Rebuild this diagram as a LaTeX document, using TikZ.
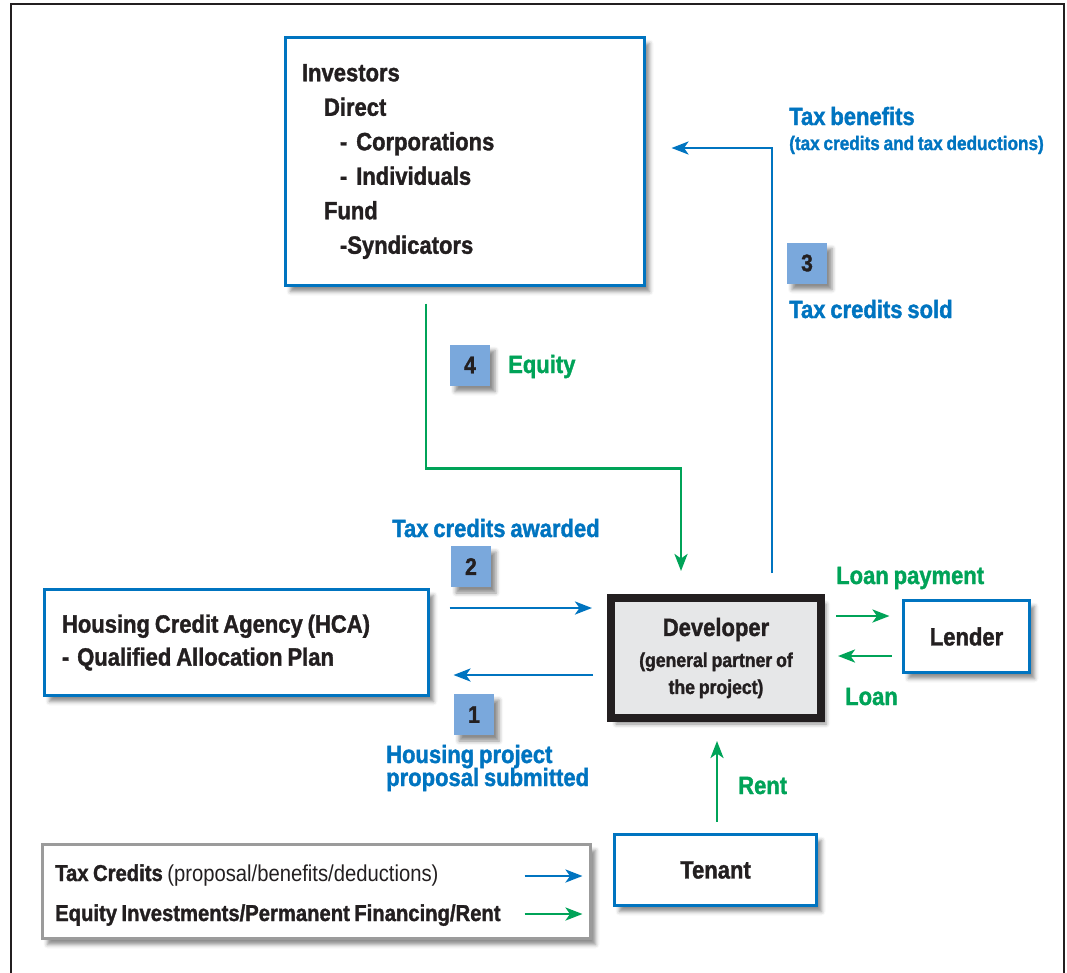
\documentclass[tikz,border=0pt]{standalone}
\usepackage{fontspec}
\setmainfont{Liberation Sans}[FakeStretch=0.88, WordSpace=0.8, BoldFeatures={FakeBold=1.4}]
\usetikzlibrary{arrows.meta, shadows.blur, positioning}
\definecolor{azul}{RGB}{0,116,192}
\definecolor{verde}{RGB}{0,163,88}
\definecolor{azulnum}{RGB}{122,168,220}
\definecolor{grisdev}{RGB}{230,231,232}
\definecolor{tinta}{RGB}{35,31,32}
\definecolor{grisley}{RGB}{155,155,155}
\tikzset{
	x=1pt, y=-1pt, % Coordenadas en pixeles, eje y hacia abajo
	every node/.style={font=\fontsize{25}{30}\selectfont\bfseries, text=tinta}, % Letra por defecto
	sombra/.style={blur shadow={shadow xshift=5pt, shadow yshift=-6pt, shadow blur radius=4pt, shadow opacity=45}}, % Sombra de las cajas
	caja/.style={draw=azul, line width=3pt, fill=white, sombra}, % Cajas azules
	num/.style={fill=azulnum, minimum width=40pt, minimum height=41pt, inner sep=0pt, sombra, font=\fontsize{24}{28}\selectfont\bfseries}, % Numeros de paso
	etq/.style={anchor=base west, inner sep=0pt}, % Etiquetas de los arcos
	flecha/.style={line width=2.8pt, -{Stealth[length=17pt, width=13pt, inset=4.5pt]}}, % Flechas
	fazul/.style={flecha, draw=azul},
	fverde/.style={flecha, draw=verde}
}

\begin{document}
\begin{tikzpicture}
				\useasboundingbox (0,0) rectangle (1067,972);
				\draw[tinta, line width=2.5pt] (11,990) -- (11,4) -- (1064,4) -- (1064,990);

				\node[caja, minimum width=359pt, minimum height=248pt, inner xsep=16.5pt, text width=326pt, align=flush left, font=\fontsize{25}{34.5}\selectfont\bfseries] (investors) at (465,161.5)
					{Investors\\\hspace*{22pt}Direct\\\hspace*{38pt}- \hspace{4pt}Corporations\\\hspace*{38pt}- \hspace{4pt}Individuals\\\hspace*{22pt}Fund\\\hspace*{38pt}-Syndicators};
				\node[caja, minimum width=384pt, minimum height=106pt, inner xsep=17.5pt, text width=349pt, align=flush left, font=\fontsize{25}{33}\selectfont\bfseries] (hca) at (236.5,642.5)
					{Housing Credit Agency (HCA)\\- \hspace{3pt}Qualified Allocation Plan};
				\node[draw=tinta, line width=8pt, fill=grisdev, sombra, minimum width=210pt, minimum height=120pt, align=center, font=\fontsize{20}{27}\selectfont\bfseries] (dev) at (716,658)
					{{\fontsize{25}{30}\selectfont Developer}\\[4pt](general partner of\\the project)};
				\node[caja, minimum width=126pt, minimum height=72pt] (lender) at (966.5,636.5) {Lender};
				\node[caja, minimum width=202pt, minimum height=71pt] (tenant) at (715.5,870) {Tenant};
				\node[draw=grisley, line width=3pt, fill=white, sombra, minimum width=548pt, minimum height=94pt] (legend) at (316.5,891.5) {};

				\node[num] (n4) at (470,365) {4};
				\node[num] (n3) at (807,263) {3};
				\node[num] (n2) at (471,566.5) {2};
				\node[num] (n1) at (474,714.5) {1};

				\node[etq, text=azul] (benef) at (789,125) {Tax benefits};
				\node[etq, text=azul, font=\fontsize{19.5}{24}\selectfont\bfseries] (benef2) at (789,150) {(tax credits and tax deductions)};
				\node[etq, text=azul] (sold) at (789,318) {Tax credits sold};
				\node[etq, text=verde] (equity) at (508,373) {Equity};
				\node[etq, text=azul] (awarded) at (392,537) {Tax credits awarded};
				\node[etq, text=verde] (lpay) at (836,584) {Loan payment};
				\node[etq, text=verde] (loan) at (845,705) {Loan};
				\node[etq, text=azul] (prop) at (386,763) {Housing project};
				\node[etq, text=azul] (prop2) at (386,786) {proposal submitted};
				\node[etq, text=verde] (rent) at (738,794) {Rent};

				\node[etq, font=\fontsize{23}{28}\selectfont\bfseries] (ley1) at (55,881) {Tax Credits {\mdseries(proposal/benefits/deductions)}};
				\node[etq, font=\fontsize{23}{28}\selectfont\bfseries] (ley2) at (55,921) {Equity Investments/Permanent Financing/Rent};

				\draw[fverde] ([xshift=-39pt, yshift=-16.5pt]investors.south) -- ++(0,165) -| ([xshift=-35pt, yshift=23pt]dev.north);
				\draw[fazul] ([xshift=56pt, yshift=21pt]dev.north) |- ([xshift=25.5pt, yshift=13.5pt]investors.east);
				\draw[fazul] ([xshift=19.5pt, yshift=34.5pt]hca.east) -- ([xshift=-15pt, yshift=50pt]dev.west);
				\draw[fazul] ([xshift=-14pt, yshift=-17pt]dev.west) -- ([xshift=23.5pt, yshift=-32.5pt]hca.east);
				\draw[fverde] ([xshift=11pt, yshift=42pt]dev.east) -- ([xshift=-12.5pt, yshift=20.5pt]lender.west);
				\draw[fverde] ([xshift=-10.5pt, yshift=-19.5pt]lender.west) -- ([xshift=13pt, yshift=2pt]dev.east);
				\draw[fverde] ([xshift=1.5pt, yshift=11.5pt]tenant.north) -- ([xshift=1pt, yshift=-19pt]dev.south);
				\draw[fazul] ([xshift=-67.5pt, yshift=15.5pt]legend.east) -- ([xshift=-9.5pt, yshift=15.5pt]legend.east);
				\draw[fverde] ([xshift=-67.5pt, yshift=-22.5pt]legend.east) -- ([xshift=-9.5pt, yshift=-22.5pt]legend.east);
			\end{tikzpicture}
\end{document}
